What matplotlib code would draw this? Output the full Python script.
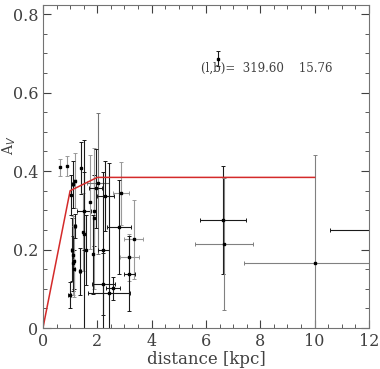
import matplotlib
matplotlib.use('Agg')
import matplotlib.pyplot as plt
import numpy as np

# extinction model (red line)
model_d = [0, 1.0, 2.0, 10.0]
model_av = [0, 0.35, 0.384, 0.384]

# data points: distance, A_V and their errors, colour of the bar
dist = [0.62, 0.87, 1.41, 1.18, 1.11, 1.02,
        1.08, 1.12, 1.10, 1.15, 1.13,
        0.99, 1.36, 1.46, 1.18, 1.52, 1.60, 1.73, 1.89, 1.875, 1.85,
        2.03, 1.94, 2.30, 2.22, 2.22, 2.58, 2.43, 2.87, 2.80, 3.35,
        3.17, 3.17, 1.50,
        6.62, 6.65, 10.0, 12.5, 6.44]
av = [0.410, 0.413, 0.408, 0.375, 0.366, 0.339,
      0.200, 0.185, 0.165, 0.150, 0.170,
      0.084, 0.145, 0.245, 0.260, 0.299, 0.199, 0.322, 0.299, 0.280, 0.188,
      0.369, 0.356, 0.337, 0.199, 0.112, 0.101, 0.090, 0.343, 0.257, 0.226,
      0.180, 0.139, 0.240,
      0.275, 0.214, 0.167, 0.251, 0.687]
dist_err = [0.0, 0.0, 0.0, 0.05, 0.05, 0.0,
            0.03, 0.03, 0.03, 0.04, 0.04,
            0.05, 0.05, 0.0, 0.05, 0.25, 0.0, 0.0, 0.0, 0.0, 0.0,
            0.40, 0.25, 0.30, 0.20, 0.43, 0.27, 0.78, 0.30, 0.45, 0.35,
            0.35, 0.20, 0.0,
            0.84, 1.07, 2.60, 1.95, 0.0]
av_err = [0.022, 0.025, 0.067, 0.070, 0.060, 0.050,
          0.080, 0.100, 0.070, 0.050, 0.090,
          0.033, 0.060, 0.100, 0.030, 0.100, 0.090, 0.120, 0.090, 0.180, 0.100,
          0.180, 0.100, 0.090, 0.200, 0.080, 0.030, 0.330, 0.080, 0.120, 0.100,
          0.060, 0.095, 0.240,
          0.138, 0.168, 0.273, 0.0, 0.019]
bar_col = ['0.6', '0.6', '0.1', '0.6', '0.1', '0.1',
           '0.1', '0.6', '0.1', '0.1', '0.6',
           '0.1', '0.1', '0.6', '0.1', '0.1', '0.1', '0.6', '0.1', '0.6', '0.1',
           '0.45', '0.1', '0.1', '0.1', '0.1', '0.1', '0.1', '0.6', '0.1', '0.6',
           '0.6', '0.1', '0.1',
           '0.1', '0.5', '0.5', '0.1', '0.1']

plt.rcParams['font.family'] = 'DejaVu Serif'

fig = plt.figure(figsize=(3.8, 3.69), dpi=100)
ax = fig.add_axes([0.113, 0.111, 0.858, 0.875])

for i in range(len(dist)):
    ax.errorbar(dist[i], av[i], xerr=dist_err[i], yerr=av_err[i],
                fmt='s', ms=1.8, color='black', ecolor=bar_col[i],
                elinewidth=0.8, capsize=1.5, capthick=0.7)

ax.plot(model_d, model_av, color='#d42a2a', lw=1.1)

ax.text(5.8, 0.662, '(l,b)=  319.60    15.76', fontsize=8.5, va='center', color='0.25')

ax.set_xlim(0, 12)
ax.set_ylim(0, 0.823)
ax.set_xticks([0, 2, 4, 6, 8, 10, 12])
ax.set_yticks([0, 0.2, 0.4, 0.6, 0.8])
ax.set_yticklabels(['0', '0.2', '0.4', '0.6', '0.8'])
ax.set_xticks(np.arange(0, 12.01, 0.5), minor=True)
ax.set_yticks(np.arange(0, 0.821, 0.05), minor=True)
ax.tick_params(which='both', direction='in', top=True, right=True,
               color='0.25', labelsize=11.5, labelcolor='0.25')
ax.tick_params(which='major', length=6)
ax.tick_params(which='minor', length=3)
for s in ax.spines.values():
    s.set_color('0.45')

ax.set_xlabel('distance [kpc]', fontsize=12, color='0.25', labelpad=1)
ax.set_ylabel('A$_V$', fontsize=10, color='0.25')
ax.yaxis.set_label_coords(-0.075, 0.565)

fig.savefig('out.png', dpi=100)
